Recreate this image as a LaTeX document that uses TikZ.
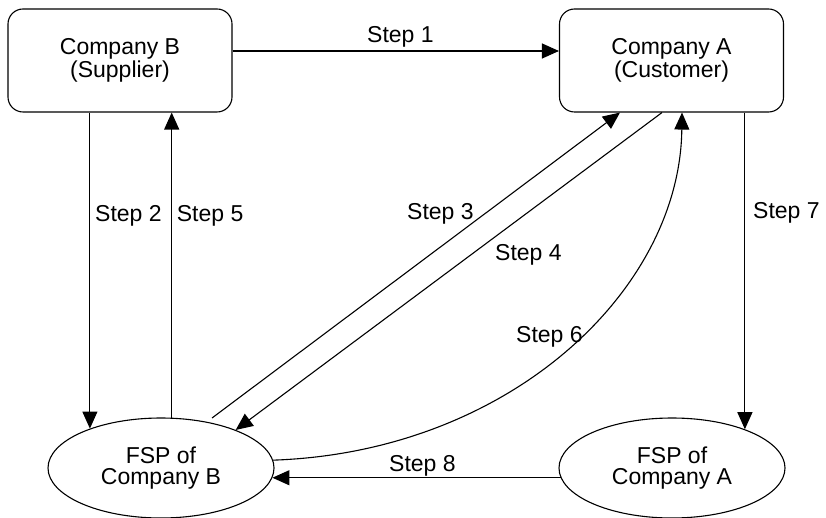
\documentclass[tikz,border=0pt]{standalone}
\usepackage{fontspec}
\setmainfont{Liberation Sans}
\usetikzlibrary{shapes.geometric,arrows.meta,calc}
\begin{document}
\begin{tikzpicture}[x=1pt,y=-1pt,
  every node/.style={font=\fontsize{23}{21}\selectfont},
  party/.style={draw, line width=1.1pt, rounded corners=15pt,
    minimum width=224pt, minimum height=103pt, align=center, inner sep=0pt},
  fsp/.style={draw, line width=1.1pt, ellipse,
    minimum width=226pt, minimum height=100pt, align=center, inner sep=0pt},
  flow/.style={line width=1.1pt, -{Triangle[length=17pt,width=15pt]}},
  steplabel/.style={anchor=base west, inner sep=0pt}]
\useasboundingbox (0,0) rectangle (826,518);

% parties and their service providers
\node[party] (B) at (120,60.5) {Company B\\(Supplier)};
\node[party] (A) at (671.5,60.5) {Company A\\(Customer)};
\node[fsp] (BF) at (161,468) {FSP of\\Company B};
\node[fsp] (AF) at (672,468) {FSP of\\Company A};

% free start of the Step 3 line
\coordinate (s3) at (212,418);

% flows
\draw[flow] ([yshift=9.5pt]B.east) -- ([yshift=9.5pt]A.west);
\draw[flow] (B.south -| BF.151.3) -- (BF.151.3);
\draw[flow] (BF.78.6) -- (BF.78.6 |- B.south);
\draw[flow] (s3) -- ([xshift=-51.5pt]A.south);
\draw[flow] ([xshift=-9.5pt]A.south) -- (BF.27);
\draw[flow] (BF.4.6) .. controls (510,452) and (680,290) .. ([xshift=10.5pt]A.south);
\draw[flow] (A.south -| AF.28.7) -- (AF.28.7);
\draw[flow] (AF.185.7) -- (BF.-5.7);

% step labels
\node[steplabel] (l1) at (367,42.7) {Step 1};
\node[steplabel] (l2) at (95,221.7) {Step 2};
\node[steplabel] (l5) at (176.7,221.7) {Step 5};
\node[steplabel] (l3) at (407,220) {Step 3};
\node[steplabel] (l4) at (495,260.7) {Step 4};
\node[steplabel] (l6) at (516,342.7) {Step 6};
\node[steplabel] (l7) at (753,219) {Step 7};
\node[steplabel] (l8) at (389,471.7) {Step 8};
\end{tikzpicture}
\end{document}
